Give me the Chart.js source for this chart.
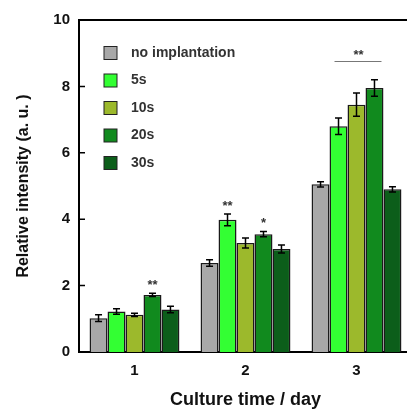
<!DOCTYPE html>
<html>
<head>
<meta charset="utf-8">
<script src="https://cdn.jsdelivr.net/npm/chart.js@4.4.0/dist/chart.umd.min.js"></script>
<style>
  html, body { margin: 0; padding: 0; background: #fff; overflow: hidden; }
  #wrap { width: 420px; height: 409px; }
</style>
</head>
<body>
<div id="wrap"><canvas id="chart" width="420" height="409"></canvas></div>
<script>
// dados
const days = ['1', '2', '3'];
const seriesNames = ['no implantation', '5s', '10s', '20s', '30s'];
const seriesColors = ['#a8a8a8', '#33ff33', '#9cb92c', '#118a1e', '#0c5e1a'];

const noImplant = [1.02, 2.68, 5.05];
const s5 = [1.22, 3.98, 6.80];
const s10 = [1.12, 3.28, 7.45];
const s20 = [1.72, 3.55, 7.95];
const s30 = [1.28, 3.10, 4.90];

const errNoImplant = [0.10, 0.10, 0.08];
const errS5 = [0.08, 0.18, 0.25];
const errS10 = [0.05, 0.15, 0.35];
const errS20 = [0.05, 0.08, 0.25];
const errS30 = [0.10, 0.12, 0.08];

const yTicks = [0, 2, 4, 6, 8, 10];

// marcas de significância: grupo, série, texto
const sigGroup = [0, 1, 1];
const sigSeries = [3, 1, 3];
const sigText = ['**', '**', '*'];
// barra com ** sobre o dia 3 (de 5s até 20s)
const sigLineGroup = 2;
const sigLineFrom = 1;
const sigLineTo = 3;
const sigLineValue = 8.75;

const values = [noImplant, s5, s10, s20, s30];
const errors = [errNoImplant, errS5, errS10, errS20, errS30];

const FONT = 'Liberation Sans, Arial, sans-serif';

const extras = {
    id: 'extras',
    afterDatasetsDraw(chart) {
        const ctx = chart.ctx;
        const y = chart.scales.y;
        const area = chart.chartArea;
        ctx.save();

        // borda superior
        ctx.strokeStyle = '#000';
        ctx.lineWidth = 2;
        ctx.beginPath();
        ctx.moveTo(area.left - 1, area.top);
        ctx.lineTo(area.right + 10, area.top);
        ctx.stroke();

        // ticks do eixo y para dentro
        ctx.lineWidth = 1.5;
        ctx.beginPath();
        y.ticks.forEach(t => {
            const py = y.getPixelForValue(t.value);
            ctx.moveTo(area.left, py);
            ctx.lineTo(area.left + 6, py);
        });
        ctx.stroke();

        // barras de erro
        ctx.lineWidth = 1.5;
        chart.data.datasets.forEach((ds, i) => {
            const meta = chart.getDatasetMeta(i);
            meta.data.forEach((bar, j) => {
                const v = ds.data[j];
                const e = errors[i][j];
                const yt = y.getPixelForValue(v + e);
                const yb = y.getPixelForValue(v - e);
                ctx.beginPath();
                ctx.moveTo(bar.x, yt); ctx.lineTo(bar.x, yb);
                ctx.moveTo(bar.x - 3.5, yt); ctx.lineTo(bar.x + 3.5, yt);
                ctx.moveTo(bar.x - 3.5, yb); ctx.lineTo(bar.x + 3.5, yb);
                ctx.stroke();
            });
        });

        // asteriscos
        ctx.fillStyle = '#333';
        ctx.font = 'bold 13px ' + FONT;
        ctx.textAlign = 'center';
        ctx.textBaseline = 'alphabetic';
        sigText.forEach((t, k) => {
            const g = sigGroup[k], s = sigSeries[k];
            const bar = chart.getDatasetMeta(s).data[g];
            const top = y.getPixelForValue(values[s][g] + errors[s][g]);
            ctx.fillText(t, bar.x, top - 4);
        });
        const b1 = chart.getDatasetMeta(sigLineFrom).data[sigLineGroup];
        const b2 = chart.getDatasetMeta(sigLineTo).data[sigLineGroup];
        const ly = y.getPixelForValue(sigLineValue);
        ctx.strokeStyle = '#777';
        ctx.lineWidth = 1.2;
        ctx.beginPath();
        ctx.moveTo(b1.x - 4, ly); ctx.lineTo(b2.x + 7, ly);
        ctx.stroke();
        ctx.fillText('**', (b1.x + b2.x) / 2 + 2, ly - 3);

        // legenda
        ctx.textAlign = 'left';
        ctx.textBaseline = 'middle';
        ctx.font = 'bold 14px ' + FONT;
        seriesNames.forEach((name, i) => {
            const cy = 53 + i * 27.5;
            ctx.fillStyle = seriesColors[i];
            ctx.fillRect(104, cy - 6.5, 13, 13);
            ctx.strokeStyle = '#222';
            ctx.lineWidth = 1;
            ctx.strokeRect(104, cy - 6.5, 13, 13);
            ctx.fillStyle = '#333';
            ctx.fillText(name, 131, cy);
        });
        ctx.restore();
    }
};

const ctx = document.getElementById('chart').getContext('2d');
new Chart(ctx, {
    type: 'bar',
    data: {
        labels: days,
        datasets: seriesNames.map((name, i) => ({
            label: name,
            data: values[i],
            backgroundColor: seriesColors[i],
            borderColor: '#1a1a1a',
            borderWidth: 1.5,
            borderSkipped: 'bottom',
            barPercentage: 1,
            categoryPercentage: 0.81
        }))
    },
    options: {
        responsive: false,
        animation: false,
        layout: { padding: { top: 20, right: 8, left: 10, bottom: 0 } },
        plugins: { legend: { display: false }, tooltip: { enabled: false } },
        scales: {
            x: {
                grid: { display: false },
                border: { display: true, color: '#000', width: 2 },
                ticks: { color: '#111', font: { family: FONT, size: 15, weight: 'bold' }, padding: 2 },
                title: { display: true, text: 'Culture time / day', color: '#111', font: { family: FONT, size: 18, weight: 'bold', lineHeight: 1 }, padding: { top: 12, bottom: 0 } },
                afterFit(scale) { scale.height = 57; }
            },
            y: {
                min: 0,
                max: 10,
                afterBuildTicks(scale) { scale.ticks = yTicks.map(v => ({ value: v })); },
                grid: { display: false },
                border: { display: true, color: '#000', width: 2 },
                ticks: { color: '#111', font: { family: FONT, size: 15, weight: 'bold' }, padding: 1 },
                title: { display: true, text: 'Relative intensity (a. u. )', color: '#111', font: { family: FONT, size: 16, weight: 'bold' } },
                afterFit(scale) { scale.width = 69; }
            }
        }
    },
    plugins: [extras]
});
</script>
</body>
</html>
